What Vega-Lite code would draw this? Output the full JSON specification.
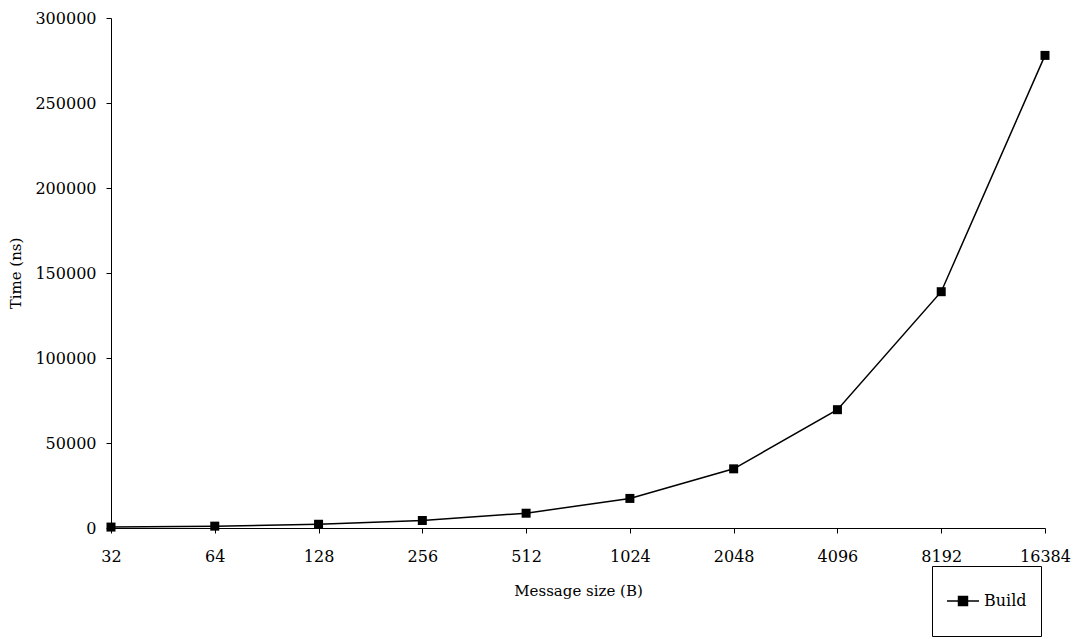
{
  "$schema": "https://vega.github.io/schema/vega-lite/v6.json",
  "autosize": "none",
  "width": 934,
  "height": 510,
  "padding": {"left": 111, "top": 18, "right": 33, "bottom": 111},
  "background": "white",
  "data": {
    "values": [
      {"size": 32, "time": 550, "series": "Build"},
      {"size": 64, "time": 1100, "series": "Build"},
      {"size": 128, "time": 2200, "series": "Build"},
      {"size": 256, "time": 4400, "series": "Build"},
      {"size": 512, "time": 8700, "series": "Build"},
      {"size": 1024, "time": 17400, "series": "Build"},
      {"size": 2048, "time": 34800, "series": "Build"},
      {"size": 4096, "time": 69600, "series": "Build"},
      {"size": 8192, "time": 139000, "series": "Build"},
      {"size": 16384, "time": 278000, "series": "Build"}
    ]
  },
  "mark": {
    "type": "line",
    "strokeWidth": 1.5,
    "point": {"shape": "square", "size": 81, "filled": true, "color": "black", "opacity": 1}
  },
  "encoding": {
    "x": {
      "field": "size",
      "type": "ordinal",
      "scale": {"type": "point", "padding": 0},
      "axis": {
        "title": "Message size (B)",
        "labelAngle": 0,
        "labelPadding": 15,
        "tickSize": 5,
        "titlePadding": 19
      }
    },
    "y": {
      "field": "time",
      "type": "quantitative",
      "scale": {"domain": [0, 300000], "nice": false},
      "axis": {
        "title": "Time (ns)",
        "values": [0, 50000, 100000, 150000, 200000, 250000, 300000],
        "format": "d",
        "tickSize": 5,
        "labelPadding": 10,
        "titlePadding": 11
      }
    },
    "color": {
      "field": "series",
      "type": "nominal",
      "scale": {"range": ["black"]},
      "legend": {
        "title": null,
        "orient": "none",
        "legendX": 821,
        "legendY": 548,
        "padding": 14,
        "strokeColor": "black",
        "symbolType": "M-1,0H1M-0.28,-0.28H0.28V0.28H-0.28Z",
        "symbolSize": 1024,
        "symbolStrokeWidth": 1.5,
        "symbolFillColor": "black",
        "symbolStrokeColor": "black",
        "labelOffset": 4,
        "clipHeight": 42
      }
    }
  },
  "config": {
    "view": {"stroke": null},
    "font": "DejaVu Serif",
    "axis": {
      "grid": false,
      "domainColor": "black",
      "tickColor": "black",
      "labelColor": "black",
      "titleColor": "black",
      "labelFont": "DejaVu Serif",
      "titleFont": "DejaVu Serif",
      "labelFontSize": 16,
      "titleFontSize": 15,
      "titleFontWeight": "normal"
    },
    "legend": {
      "labelFont": "DejaVu Serif",
      "labelFontSize": 16,
      "labelColor": "black"
    }
  }
}
